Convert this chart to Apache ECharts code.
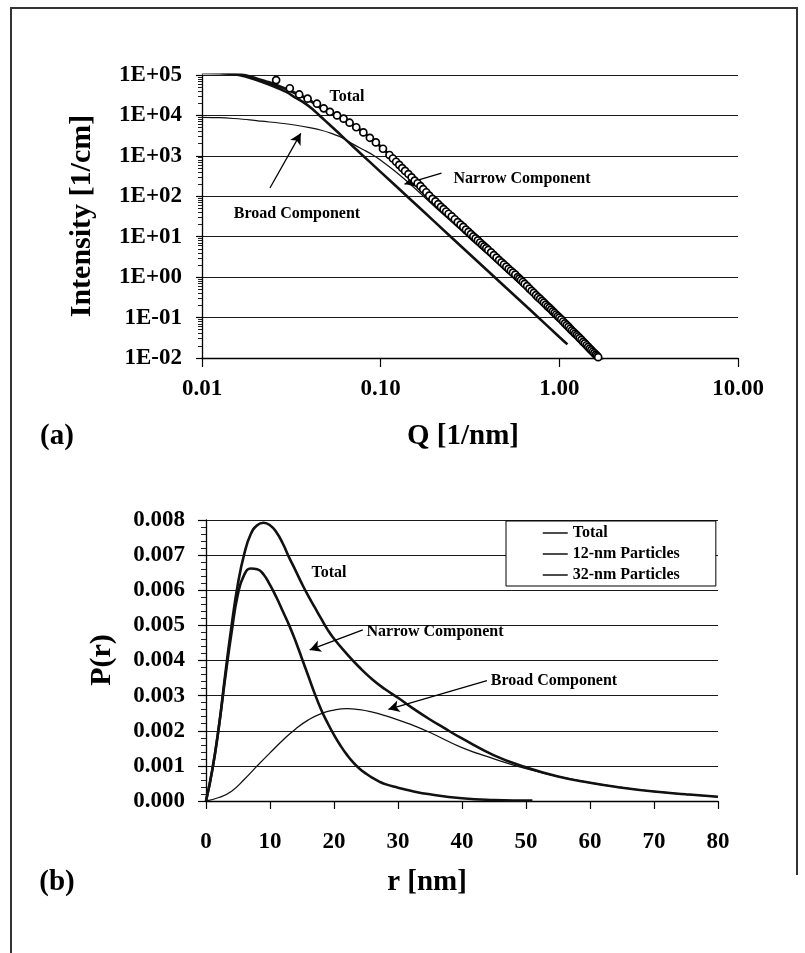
<!DOCTYPE html>
<html>
<head>
<meta charset="utf-8">
<script src="https://cdn.jsdelivr.net/npm/echarts@6/dist/echarts.min.js"></script>
<style>
  html, body { margin: 0; padding: 0; background: #fff; }
  #chart { width: 805px; height: 953px; }
</style>
</head>
<body>
<div id="chart"></div>
<script>
// ---- (a) scattering curve: measured points ----
const qData = [
  0.026, 0.031, 0.035, 0.039, 0.044, 0.048, 0.052, 0.057, 0.062, 0.067,
  0.073, 0.080, 0.087, 0.094, 0.103, 0.112, 0.117, 0.122, 0.127, 0.132,
  0.137, 0.143, 0.149, 0.155, 0.161, 0.167, 0.173, 0.180, 0.187, 0.195,
  0.2025, 0.21, 0.2175, 0.225, 0.2325, 0.24, 0.25, 0.26, 0.27, 0.28,
  0.29, 0.30, 0.31, 0.32, 0.33, 0.34, 0.35, 0.36, 0.37, 0.38,
  0.39, 0.40, 0.415, 0.43, 0.445, 0.46, 0.475, 0.49, 0.505, 0.52,
  0.535, 0.55, 0.567, 0.585, 0.597, 0.61, 0.625, 0.64, 0.66, 0.68,
  0.70, 0.72, 0.74, 0.76, 0.78, 0.80, 0.82, 0.84, 0.86, 0.88,
  0.90, 0.92, 0.94, 0.96, 0.98, 1.00, 1.025, 1.05, 1.075, 1.10,
  1.125, 1.15, 1.175, 1.20, 1.225, 1.25, 1.275, 1.30, 1.33, 1.36,
  1.39, 1.42, 1.45, 1.48, 1.51, 1.54, 1.57, 1.60, 1.625, 1.65];
const iData = [
  7.5e4, 4.7e4, 3.3e4, 2.6e4, 1.95e4, 1.5e4, 1.23e4, 1.0e4, 8.3e3, 6.6e3,
  5.1e3, 3.8e3, 2.8e3, 2.15e3, 1.5e3, 1.05e3, 860, 714, 600, 500,
  425, 355, 295, 245, 210, 178, 150, 126, 104, 86,
  75, 64, 55, 48, 42, 37, 32, 27, 23, 20,
  17.5, 15, 13.2, 11.6, 10.2, 9.1, 8.1, 7.2, 6.4, 5.75,
  5.2, 4.7, 4.1, 3.5, 3.05, 2.65, 2.33, 2.06, 1.82, 1.61,
  1.44, 1.29, 1.15, 1.0, 0.92, 0.84, 0.76, 0.68, 0.60, 0.52,
  0.46, 0.41, 0.36, 0.32, 0.29, 0.26, 0.235, 0.21, 0.19, 0.174,
  0.158, 0.142, 0.13, 0.119, 0.109, 0.1, 0.09, 0.080, 0.072, 0.065,
  0.059, 0.053, 0.048, 0.044, 0.040, 0.037, 0.034, 0.031, 0.028, 0.025,
  0.023, 0.0207, 0.0189, 0.0171, 0.0157, 0.0143, 0.0132, 0.0121, 0.0113, 0.0105];

// ---- (a) total fit ----
const fitQ = [0.010, 0.0125, 0.0147, 0.0175, 0.020, 0.0235, 0.0267, 0.030, 0.0331, 0.037,
  0.041, 0.0466, 0.052, 0.057, 0.062, 0.067, 0.073, 0.080, 0.087, 0.094,
  0.103, 0.112, 0.122, 0.132, 0.143, 0.155, 0.167, 0.18, 0.195, 0.21,
  0.24, 0.28, 0.32, 0.36, 0.40, 0.46, 0.52, 0.585, 0.64, 0.72,
  0.80, 0.88, 0.96, 1.0, 1.1, 1.2, 1.3, 1.42, 1.54, 1.65, 1.75];
const fitI = [1.18e5, 1.17e5, 1.12e5, 9.8e4, 8.2e4, 6.6e4, 5.4e4, 4.4e4, 3.6e4, 2.85e4,
  2.2e4, 1.5e4, 1.15e4, 9.6e3, 8.2e3, 6.6e3, 5.1e3, 3.8e3, 2.8e3, 2.15e3,
  1.5e3, 1.05e3, 714, 500, 355, 245, 178, 126, 86, 64,
  37, 20, 11.6, 7.2, 4.7, 2.65, 1.61, 1.0, 0.68, 0.41,
  0.26, 0.174, 0.119, 0.1, 0.065, 0.044, 0.031, 0.0207, 0.0143, 0.0105, 0.0085];

// ---- (a) component with the high plateau and steep Porod tail ----
const steepQ = [0.010, 0.0125, 0.0147, 0.0175, 0.020, 0.0235, 0.0267, 0.030, 0.0331, 0.037,
  0.041, 0.0466, 0.052, 0.057, 0.063, 0.070, 0.078, 0.0988, 0.15, 0.20,
  0.30, 0.50, 0.70, 1.00, 1.11];
const steepI = [1.12e5, 1.11e5, 1.06e5, 9.2e4, 7.6e4, 5.9e4, 4.7e4, 3.7e4, 2.8e4, 2.1e4,
  1.5e4, 9.0e3, 5.8e3, 4.0e3, 2.63e3, 1.71e3, 1.1e3, 420, 76.5, 23.6,
  4.5, 0.56, 0.143, 0.033, 0.0217];

// ---- (a) component with the low plateau ----
const lowQ = [0.010, 0.0125, 0.015, 0.0185, 0.0215, 0.027, 0.033, 0.040, 0.0466, 0.053,
  0.060, 0.070, 0.080, 0.090, 0.100, 0.120, 0.152, 0.20, 0.25, 0.323,
  0.40, 0.50, 0.70, 1.00, 1.30, 1.60];
const lowI = [9.0e3, 8.8e3, 8.4e3, 7.8e3, 7.2e3, 6.5e3, 5.8e3, 5.0e3, 4.3e3, 3.6e3,
  2.9e3, 1.95e3, 1.42e3, 1.07e3, 780, 420, 172, 56, 23, 8.2,
  3.5, 1.42, 0.37, 0.089, 0.031, 0.0136];

// ---- (b) size distributions ----
const rTotal = [0, 1, 2, 3, 4, 5, 6, 7, 8, 9, 10, 11, 12, 13, 14, 15, 16, 17, 18, 19,
  20, 22, 24, 26, 28, 30, 32, 35, 37, 40, 45, 50, 55, 60, 65, 70, 75, 80];
const pTotal = [0, 0.0009, 0.0021, 0.0036, 0.0050, 0.0062, 0.00705, 0.0076, 0.00785, 0.00792,
  0.00785, 0.00765, 0.00733, 0.00693, 0.00656, 0.00618, 0.00583, 0.00551, 0.00519, 0.00488,
  0.00462, 0.00419, 0.0038, 0.00346, 0.00318, 0.00294, 0.00268, 0.00232, 0.0021, 0.00178,
  0.0013, 0.00096, 0.0007, 0.00052, 0.00038, 0.00027, 0.00019, 0.00012];

const r12 = [0, 1, 2, 3, 4, 5, 6, 7, 8, 9, 10, 11, 12, 13, 14, 15, 16, 17, 18, 19,
  20, 21, 22, 23, 24, 25, 26, 27, 28, 30, 32, 35, 40, 45, 51];
const p12 = [0, 0.0009, 0.0021, 0.0035, 0.0048, 0.0059, 0.00645, 0.00662, 0.0066, 0.00645,
  0.00615, 0.0058, 0.0054, 0.0050, 0.00455, 0.00405, 0.00355, 0.00305, 0.0026, 0.00222,
  0.00188, 0.00158, 0.00132, 0.0011, 0.00092, 0.00078, 0.00066, 0.00056, 0.00048, 0.00038,
  0.00029, 0.00019, 0.00008, 0.00003, 0.00001];

const r32 = [0, 2, 4, 6, 8, 10, 12, 14, 16, 18, 20, 22, 24, 26, 28, 30, 32, 35, 40, 45,
  50, 55, 60, 65, 70, 75, 80];
const p32 = [0, 0.0001, 0.00028, 0.00062, 0.0010, 0.00137, 0.00173, 0.00205, 0.00231, 0.00249,
  0.00259, 0.00263, 0.0026, 0.00253, 0.00243, 0.00231, 0.00218, 0.00195, 0.00152, 0.0012,
  0.00092, 0.0007, 0.00052, 0.00038, 0.00027, 0.00019, 0.00012];

const legendNames = ['Total', '12-nm Particles', '32-nm Particles'];

const pairs = (xs, ys) => xs.map((x, i) => [x, ys[i]]);

const SERIF = "'Liberation Serif', 'Times New Roman', serif";
const INK = '#111';
const tickFont = { fontFamily: SERIF, fontWeight: 'bold', fontSize: 23, color: '#000' };

const expLabel = v => {
  const e = Math.round(Math.log10(v));
  return '1E' + (e < 0 ? '-' : '+') + String(Math.abs(e)).padStart(2, '0');
};

const arrowLine = (from, to) => [
  { coord: from, symbol: 'none' },
  { coord: to, symbol: 'arrow', symbolSize: [9, 11] }
];
const arrowStyle = { color: '#000', width: 1.3, type: 'solid' };

const chart = echarts.init(document.getElementById('chart'), null, { renderer: 'canvas' });

const textEl = (text, x, y, size, rot) => ({
  type: 'text', x: x, y: y, rotation: rot || 0, z: 50,
  style: { text: text, fontFamily: SERIF, fontWeight: 'bold', fontSize: size, fill: '#000',
           align: 'center', verticalAlign: 'middle' }
});

chart.setOption({
  animation: false,
  backgroundColor: '#fff',
  grid: [
    { left: 202, top: 75, width: 536, height: 283 },
    { left: 206, top: 520, width: 512, height: 281 }
  ],
  legend: {
    data: legendNames,
    orient: 'vertical',
    left: 506, top: 521,
    backgroundColor: '#fff',
    borderColor: '#000', borderWidth: 1,
    padding: [4, 36, 3, 36],
    itemGap: 5, itemWidth: 25, itemHeight: 14,
    itemStyle: { opacity: 0 },
    lineStyle: { width: 1.5 },
    textStyle: { fontFamily: SERIF, fontWeight: 'bold', fontSize: 16, color: '#000' },
    selectedMode: false
  },
  xAxis: [
    {
      gridIndex: 0, type: 'log', logBase: 10, min: 0.01, max: 10,
      axisLine: { lineStyle: { color: '#000', width: 1.3 } },
      axisTick: { length: 9, lineStyle: { color: '#000', width: 1.2 } },
      axisLabel: Object.assign({ margin: 20, formatter: v => Number(v).toFixed(2) }, tickFont),
      splitLine: { show: false }
    },
    {
      gridIndex: 1, type: 'value', min: 0, max: 80, interval: 10,
      axisLine: { lineStyle: { color: '#000', width: 1.3 } },
      axisTick: { length: 8, lineStyle: { color: '#000', width: 1.2 } },
      axisLabel: Object.assign({ margin: 30 }, tickFont),
      splitLine: { show: false }
    }
  ],
  yAxis: [
    {
      gridIndex: 0, type: 'log', logBase: 10, min: 0.01, max: 1e5,
      axisLine: { show: true, lineStyle: { color: '#000', width: 1.3 } },
      axisTick: { show: true, length: 6, lineStyle: { color: '#000', width: 1.2 } },
      minorTick: { show: true, splitNumber: 9, length: 4, lineStyle: { color: '#222' } },
      axisLabel: Object.assign({ margin: 20, formatter: expLabel }, tickFont),
      splitLine: { show: true, lineStyle: { color: '#1a1a1a', width: 1 } }
    },
    {
      gridIndex: 1, type: 'value', min: 0, max: 0.008, interval: 0.001,
      axisLine: { show: true, lineStyle: { color: '#000', width: 1.3 } },
      axisTick: { show: true, length: 8, lineStyle: { color: '#000', width: 1.2 } },
      minorTick: { show: true, splitNumber: 5, length: 5, lineStyle: { color: '#222' } },
      axisLabel: Object.assign({ margin: 21, formatter: v => Number(v).toFixed(3) }, tickFont),
      splitLine: { show: true, lineStyle: { color: '#1a1a1a', width: 1 } }
    }
  ],
  series: [
    {
      name: 'low plateau', type: 'line', xAxisIndex: 0, yAxisIndex: 0,
      data: pairs(lowQ, lowI), symbol: 'none', smooth: 0.3,
      lineStyle: { color: INK, width: 1.2 },
      markLine: {
        silent: true, label: { show: false }, lineStyle: arrowStyle,
        data: [arrowLine([0.024, 160], [0.0357, 3.6e3])]
      }
    },
    {
      name: 'steep component', type: 'line', xAxisIndex: 0, yAxisIndex: 0,
      data: pairs(steepQ, steepI), symbol: 'none', smooth: 0.3,
      lineStyle: { color: INK, width: 2.6 },
      markLine: {
        silent: true, label: { show: false }, lineStyle: arrowStyle,
        data: [arrowLine([0.219, 375], [0.136, 200])]
      }
    },
    {
      name: 'total fit', type: 'line', xAxisIndex: 0, yAxisIndex: 0,
      data: pairs(fitQ, fitI), symbol: 'none', smooth: 0.3,
      lineStyle: { color: INK, width: 3 }
    },
    {
      name: 'measured', type: 'scatter', xAxisIndex: 0, yAxisIndex: 0,
      data: pairs(qData, iData), symbol: 'circle', symbolSize: 7, z: 5,
      itemStyle: { color: '#fff', borderColor: '#000', borderWidth: 1.7, opacity: 1 }
    },
    {
      name: legendNames[0], type: 'line', xAxisIndex: 1, yAxisIndex: 1,
      data: pairs(rTotal, pTotal), symbol: 'none', smooth: 0.5,
      lineStyle: { color: INK, width: 2.6 }, itemStyle: { color: INK },
      markLine: {
        silent: true, label: { show: false }, lineStyle: arrowStyle,
        data: [arrowLine([24.5, 0.00487], [16.2, 0.0043]), arrowLine([43.9, 0.00343], [28.5, 0.00261])]
      }
    },
    {
      name: legendNames[1], type: 'line', xAxisIndex: 1, yAxisIndex: 1,
      data: pairs(r12, p12), symbol: 'none', smooth: 0.5,
      lineStyle: { color: INK, width: 2.6 }, itemStyle: { color: INK }
    },
    {
      name: legendNames[2], type: 'line', xAxisIndex: 1, yAxisIndex: 1,
      data: pairs(r32, p32), symbol: 'none', smooth: 0.5,
      lineStyle: { color: INK, width: 1.3 }, itemStyle: { color: INK }
    }
  ],
  graphic: [
    // page frame
    { type: 'polyline', z: 40, shape: { points: [[11, 953], [11, 8], [797, 8], [797, 875]] },
      style: { stroke: '#333', lineWidth: 2, fill: null } },
    // (a) labels
    textEl('Intensity [1/cm]', 82, 216, 30, Math.PI / 2),
    textEl('Q [1/nm]', 463, 437, 29),
    textEl('(a)', 57, 437, 29),
    textEl('Total', 347, 97, 16),
    textEl('Broad Component', 297, 214, 16),
    textEl('Narrow Component', 522, 179, 16),
    // (b) labels
    textEl('P(r)', 102, 660, 30, Math.PI / 2),
    textEl('r [nm]', 427, 883, 29),
    textEl('(b)', 57, 883, 29),
    textEl('Total', 329, 573, 16),
    textEl('Narrow Component', 435, 632, 16),
    textEl('Broad Component', 554, 681, 16)
  ]
});
</script>
</body>
</html>
